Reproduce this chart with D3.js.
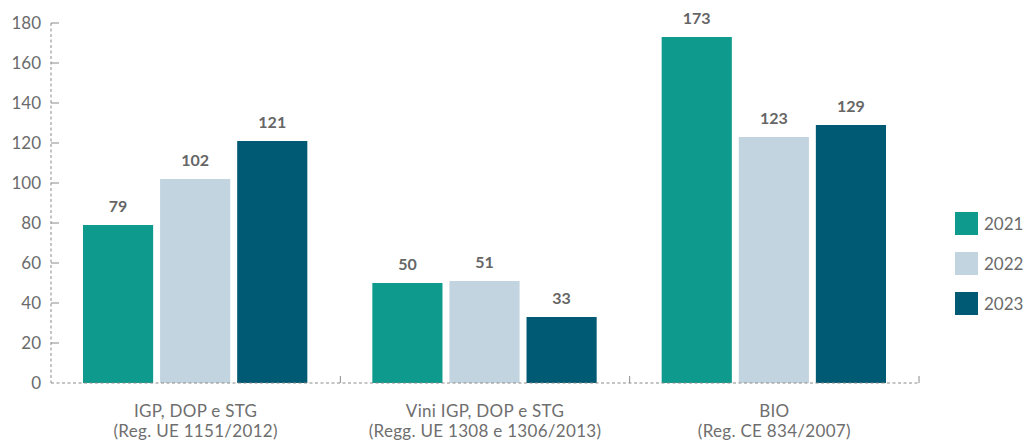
<!DOCTYPE html>
<html>
<head>
<meta charset="utf-8">
<script src="https://cdn.jsdelivr.net/npm/d3@7"></script>
<style>
	body { margin: 0; background: #fff; }
	svg { font-family: Lato, "Open Sans", sans-serif; }
	.tick-label { fill: #6b6b6b; font-size: 17px; }
	.cat-label { fill: #6e6e6e; font-size: 17px; letter-spacing: 0.3px; }
	.val-label { fill: #666; font-size: 16px; font-weight: bold; }
	.legend-label { fill: #6b6b6b; font-size: 17px; }
</style>
</head>
<body>
<svg id="chart" width="1029" height="441"></svg>
<script>
// categories (two lines each)
var categories = ["IGP", "VINI", "BIO"];
var categoryLines = [
	["IGP, DOP e STG", "(Reg. UE 1151/2012)"],
	["Vini IGP, DOP e STG", "(Regg. UE 1308 e 1306/2013)"],
	["BIO", "(Reg. CE 834/2007)"]
];
var years = ["2021", "2022", "2023"];
var values2021 = [79, 50, 173];
var values2022 = [102, 51, 123];
var values2023 = [121, 33, 129];
var yTicks = [0, 20, 40, 60, 80, 100, 120, 140, 160, 180];

var colors = ["#0e9a8d", "#c2d4df", "#005a73"];

var svg = d3.select("#chart");

var mLeft = 51, mRight = 919, mTop = 23, mBottom = 383;

var x0 = d3.scaleBand()
	.domain(categories)
	.range([mLeft, mRight])
	.paddingInner(0)
	.paddingOuter(0);

var x1 = d3.scaleBand()
	.domain(years)
	.range([32, x0.bandwidth() - 33])
	.paddingInner(0.09)
	.paddingOuter(0);

var y = d3.scaleLinear()
	.domain([0, 180])
	.range([mBottom, mTop]);

var series = [values2021, values2022, values2023];

var rows = [];
categories.forEach(function(c, i) {
	years.forEach(function(yr, j) {
		rows.push({cat: c, year: yr, value: series[j][i], color: colors[j]});
	});
});

// bars
svg.append("g").selectAll("rect")
	.data(rows)
	.enter()
	.append("rect")
		.attr("x", d => x0(d.cat) + x1(d.year))
		.attr("y", d => y(d.value))
		.attr("width", x1.bandwidth())
		.attr("height", d => y(0) - y(d.value))
		.attr("fill", d => d.color);

// value labels
svg.append("g").selectAll("text")
	.data(rows)
	.enter()
	.append("text")
		.attr("class", "val-label")
		.attr("text-anchor", "middle")
		.attr("x", d => x0(d.cat) + x1(d.year) + x1.bandwidth() / 2)
		.attr("y", d => y(d.value) - 13)
		.text(d => d.value);

// y axis (dashed line, solid short ticks)
var gy = svg.append("g");
gy.append("line")
	.attr("x1", mLeft).attr("x2", mLeft)
	.attr("y1", mTop).attr("y2", mBottom)
	.attr("stroke", "#8a8a8a")
	.attr("stroke-dasharray", "3,2.5");
gy.selectAll("line.tk")
	.data(yTicks.filter(d => d > 0))
	.enter()
	.append("line")
		.attr("class", "tk")
		.attr("x1", mLeft).attr("x2", mLeft + 8)
		.attr("y1", d => y(d)).attr("y2", d => y(d))
		.attr("stroke", "#8a8a8a");
gy.selectAll("text")
	.data(yTicks)
	.enter()
	.append("text")
		.attr("class", "tick-label")
		.attr("text-anchor", "end")
		.attr("x", mLeft - 10)
		.attr("y", d => y(d) + 6)
		.text(d => d);

// x axis (dashed, little upward ticks at group borders)
var gx = svg.append("g");
gx.append("line")
	.attr("x1", mLeft).attr("x2", mRight)
	.attr("y1", mBottom).attr("y2", mBottom)
	.attr("stroke", "#8a8a8a")
	.attr("stroke-dasharray", "3,2.5");
gx.selectAll("line.tk")
	.data(categories)
	.enter()
	.append("line")
		.attr("class", "tk")
		.attr("x1", d => x0(d) + x0.bandwidth())
		.attr("x2", d => x0(d) + x0.bandwidth())
		.attr("y1", mBottom).attr("y2", mBottom - 7)
		.attr("stroke", "#8a8a8a");

gx.selectAll("text")
	.data(categories)
	.enter()
	.append("text")
		.attr("class", "cat-label")
		.attr("text-anchor", "middle")
		.attr("x", d => x0(d) + x0.bandwidth() / 2)
		.attr("y", 417)
		.each(function(d, i) {
			var t = d3.select(this);
			categoryLines[i].forEach(function(line, k) {
				t.append("tspan")
					.attr("x", x0(d) + x0.bandwidth() / 2)
					.attr("dy", k == 0 ? 0 : 20)
					.text(line);
			});
		});

// legend
var legend = svg.append("g").selectAll("g")
	.data(years)
	.enter()
	.append("g")
		.attr("transform", (d, i) => "translate(955," + (212 + i * 40) + ")");
legend.append("rect")
	.attr("width", 23).attr("height", 23)
	.attr("fill", (d, i) => colors[i]);
legend.append("text")
	.attr("class", "legend-label")
	.attr("x", 29)
	.attr("y", 18)
	.text(d => d);
</script>
</body>
</html>
